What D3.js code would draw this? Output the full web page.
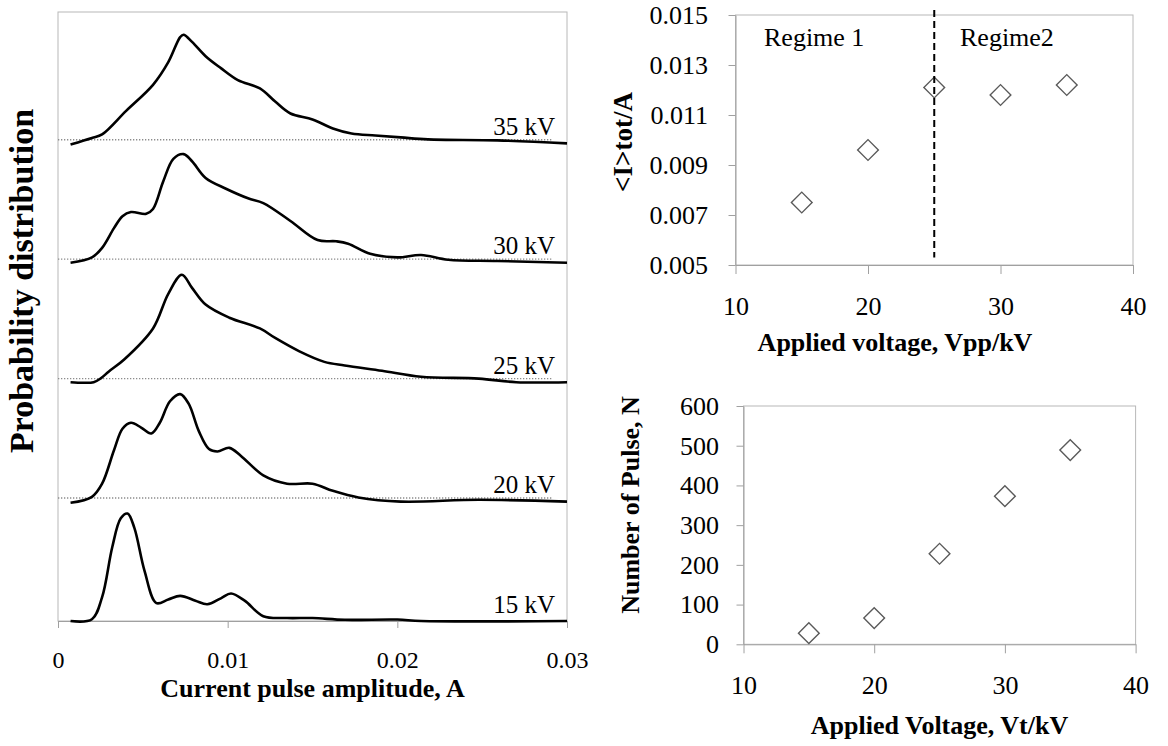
<!DOCTYPE html>
<html>
<head>
<meta charset="utf-8">
<script src="https://cdn.jsdelivr.net/npm/d3@7"></script>
<style>
  body { margin: 0; background: #fff; }
  text { font-family: "Liberation Serif", "Times New Roman", serif; fill: #000; }
  .title { font-weight: bold; }
</style>
</head>
<body>
<svg id="chart" width="1168" height="746"></svg>
<script>
// current pulse amplitude distributions, [amplitude A, height]
var dist15 = [[0.00074, 0], [0.002, 0.015], [0.0026, 0.2], [0.0032, 0.62], [0.0037, 0.86], [0.0041, 0.9], [0.0045, 0.78],
  [0.0051, 0.42], [0.0058, 0.15], [0.0065, 0.18], [0.0072, 0.21], [0.0081, 0.17], [0.0088, 0.14], [0.0096, 0.19],
  [0.0102, 0.23], [0.011, 0.17], [0.0121, 0.04], [0.0135, 0.025], [0.015, 0.025], [0.0169, 0.01], [0.02, 0.012],
  [0.0214, 0], [0.03, 0]];
var dist20 = [[0.00074, -0.01], [0.002, 0.04], [0.0026, 0.15], [0.0033, 0.43], [0.0038, 0.61], [0.0043, 0.66],
  [0.0049, 0.62], [0.0055, 0.57], [0.006, 0.66], [0.0066, 0.84], [0.0072, 0.9], [0.0077, 0.82], [0.0083, 0.59],
  [0.0089, 0.44], [0.0094, 0.42], [0.0101, 0.45], [0.0108, 0.38], [0.0121, 0.22], [0.0135, 0.15], [0.015, 0.15],
  [0.0162, 0.09], [0.0177, 0.035], [0.0202, 0], [0.0248, 0.015], [0.03, 0]];
var dist25 = [[0.00074, 0], [0.0015, -0.005], [0.0021, 0], [0.0025, 0.03], [0.003, 0.09], [0.0039, 0.19],
  [0.0056, 0.45], [0.0065, 0.74], [0.0073, 0.9], [0.0079, 0.79], [0.0087, 0.65], [0.0101, 0.54], [0.0119, 0.45],
  [0.0128, 0.37], [0.0142, 0.26], [0.0157, 0.17], [0.0169, 0.14], [0.0191, 0.095], [0.0214, 0.045], [0.0248, 0.03],
  [0.027, 0], [0.03, 0]];
var dist30 = [[0.00074, 0], [0.002, 0.045], [0.0026, 0.125], [0.0033, 0.29], [0.0038, 0.39], [0.0043, 0.425],
  [0.0052, 0.41], [0.0056, 0.45], [0.0062, 0.68], [0.0068, 0.87], [0.0074, 0.91], [0.0079, 0.85], [0.0087, 0.71],
  [0.0099, 0.62], [0.0112, 0.54], [0.0121, 0.5], [0.0137, 0.35], [0.0153, 0.19], [0.0164, 0.18], [0.0171, 0.16],
  [0.0184, 0.075], [0.02, 0.045], [0.0214, 0.065], [0.023, 0.025], [0.0259, 0.015], [0.03, 0]];
var dist35 = [[0.00074, -0.01], [0.002, 0.045], [0.0026, 0.075], [0.004, 0.27], [0.0056, 0.49], [0.0065, 0.68],
  [0.0072, 0.89], [0.0074, 0.91], [0.0079, 0.85], [0.0087, 0.73], [0.0096, 0.63], [0.0106, 0.53], [0.0119, 0.46],
  [0.0128, 0.35], [0.0137, 0.25], [0.015, 0.2], [0.0162, 0.125], [0.0173, 0.083], [0.0187, 0.066], [0.0202, 0.05],
  [0.0218, 0.033], [0.0259, 0.025], [0.03, 0]];
var distributions = [dist15, dist20, dist25, dist30, dist35];
var kvLabels = ["15 kV", "20 kV", "25 kV", "30 kV", "35 kV"];
var ampTicks = [0, 0.01, 0.02, 0.03];

// mean current and pulse count against applied voltage
var voltage = [15, 20, 25, 30, 35];
var meanCurrent = [0.0075, 0.0096, 0.0121, 0.0118, 0.0122];
var pulseCount = [28, 66, 228, 373, 489];
var voltTicks = [10, 20, 30, 40];
var currentTicks = [0.005, 0.007, 0.009, 0.011, 0.013, 0.015];
var pulseTicks = [0, 100, 200, 300, 400, 500, 600];
var regimeLabels = ["Regime 1", "Regime2"];
var regimeBoundary = 25;

var svg = d3.select("#chart");
var axisGrey = "#a0a0a0";
var boxGrey = "#b8b8b8";

// ---------- left: stacked distributions ----------
var left = { x0: 58, x1: 567, y0: 12, y1: 621 };
var ampX = d3.scaleLinear().domain([0, 0.03]).range([left.x0, left.x1]);
var stackY = d3.scaleLinear().domain([0, 5.1]).range([left.y1, left.y0]);

svg.append("rect")
  .attr("x", left.x0).attr("y", left.y0)
  .attr("width", left.x1 - left.x0).attr("height", left.y1 - left.y0)
  .attr("fill", "none").attr("stroke", boxGrey);

var ampAxis = svg.append("g")
  .attr("transform", "translate(0," + left.y1 + ")")
  .call(d3.axisBottom(ampX).tickValues(ampTicks).tickSize(7).tickSizeOuter(0)
    .tickFormat(function (d) { return String(d); }))
  .attr("font-family", null).attr("font-size", null);
ampAxis.select(".domain").attr("stroke", axisGrey);
ampAxis.selectAll(".tick line").attr("stroke", axisGrey);
ampAxis.selectAll("text").attr("y", 47).attr("dy", 0).style("font-size", "24px");

var distLine = d3.line()
  .curve(d3.curveCatmullRom.alpha(0.5));

distributions.forEach(function (dist, i) {
  if (i > 0) {
    svg.append("line")
      .attr("x1", ampX(0)).attr("x2", ampX(0.0291))
      .attr("y1", stackY(i + 0.03)).attr("y2", stackY(i + 0.03))
      .attr("stroke", "#8c8c8c").attr("stroke-width", 1.3)
      .attr("stroke-dasharray", "1.3,1.7");
  }
  svg.append("path")
    .attr("d", distLine(dist.map(function (p) { return [ampX(p[0]), stackY(i + p[1])]; })))
    .attr("fill", "none").attr("stroke", "#000").attr("stroke-width", 2.6)
    .attr("stroke-linejoin", "round");
  svg.append("text")
    .attr("x", 555).attr("y", stackY(i + 0.07))
    .attr("text-anchor", "end")
    .style("font-size", "25px")
    .text(kvLabels[i]);
});

svg.append("text").attr("class", "title")
  .attr("x", (left.x0 + left.x1) / 2).attr("y", 697)
  .attr("text-anchor", "middle").style("font-size", "26px")
  .text("Current pulse amplitude, A");

svg.append("text").attr("class", "title")
  .attr("transform", "translate(33,281) rotate(-90)")
  .attr("text-anchor", "middle").style("font-size", "34px")
  .text("Probability distribution");

// ---------- helper for the two scatter panels ----------
function scatterPanel(box, yDomain, yTicks, yFormat, values, labelX) {
  var x = d3.scaleLinear().domain([10, 40]).range([box.x0, box.x1]);
  var y = d3.scaleLinear().domain(yDomain).range([box.y1, box.y0]);

  svg.append("rect")
    .attr("x", box.x0).attr("y", box.y0)
    .attr("width", box.x1 - box.x0).attr("height", box.y1 - box.y0)
    .attr("fill", "none").attr("stroke", boxGrey);

  var gx = svg.append("g")
    .attr("transform", "translate(0," + box.y1 + ")")
    .call(d3.axisBottom(x).tickValues(voltTicks).tickSize(9).tickSizeOuter(0));
  gx.selectAll("text").attr("y", 50).attr("dy", 0);

  var gy = svg.append("g")
    .attr("transform", "translate(" + box.x0 + ",0)")
    .call(d3.axisLeft(y).tickValues(yTicks).tickSize(7).tickSizeOuter(0).tickFormat(yFormat));
  gy.selectAll("text").attr("x", labelX);

  [gx, gy].forEach(function (g) {
    g.attr("font-family", null).attr("font-size", null);
    g.select(".domain").attr("stroke", axisGrey);
    g.selectAll(".tick line").attr("stroke", axisGrey);
    g.selectAll("text").style("font-size", "26px");
  });

  svg.append("g").selectAll("path")
    .data(values)
    .join("path")
    .attr("d", d3.symbol().type(d3.symbolSquare).size(215))
    .attr("transform", function (d, i) {
      return "translate(" + x(voltage[i]) + "," + y(d) + ") rotate(45)";
    })
    .attr("fill", "#fff").attr("stroke", "#5a5a5a").attr("stroke-width", 1.4);

  return { x: x, y: y };
}

// ---------- top right: mean current ----------
var topBox = { x0: 735.5, x1: 1133, y0: 15, y1: 265 };
var currentPanel = scatterPanel(topBox, [0.005, 0.015], currentTicks, d3.format(".3f"), meanCurrent, -27.5);

svg.append("line")
  .attr("x1", currentPanel.x(regimeBoundary)).attr("x2", currentPanel.x(regimeBoundary))
  .attr("y1", currentPanel.y(0.0152)).attr("y2", currentPanel.y(0.0053))
  .attr("stroke", "#000").attr("stroke-width", 2)
  .attr("stroke-dasharray", "7,4");

svg.append("text").attr("x", 764).attr("y", 46).style("font-size", "26px").text(regimeLabels[0]);
svg.append("text").attr("x", 960).attr("y", 46).style("font-size", "26px").text(regimeLabels[1]);

svg.append("text").attr("class", "title")
  .attr("x", 895).attr("y", 351)
  .attr("text-anchor", "middle").style("font-size", "26px")
  .text("Applied voltage, Vpp/kV");

svg.append("text").attr("class", "title")
  .attr("transform", "translate(632,142) rotate(-90)")
  .attr("text-anchor", "middle").style("font-size", "27px")
  .text("<I>tot/A");

// ---------- bottom right: number of pulses ----------
var botBox = { x0: 743.5, x1: 1135.6, y0: 406, y1: 644.3 };
scatterPanel(botBox, [0, 600], pulseTicks, d3.format("d"), pulseCount, -24.5);

svg.append("text").attr("class", "title")
  .attr("x", (botBox.x0 + botBox.x1) / 2).attr("y", 734)
  .attr("text-anchor", "middle").style("font-size", "26px")
  .text("Applied Voltage, Vt/kV");

svg.append("text").attr("class", "title")
  .attr("transform", "translate(639,505) rotate(-90)")
  .attr("text-anchor", "middle").style("font-size", "26px")
  .text("Number of Pulse, N");
</script>
</body>
</html>
